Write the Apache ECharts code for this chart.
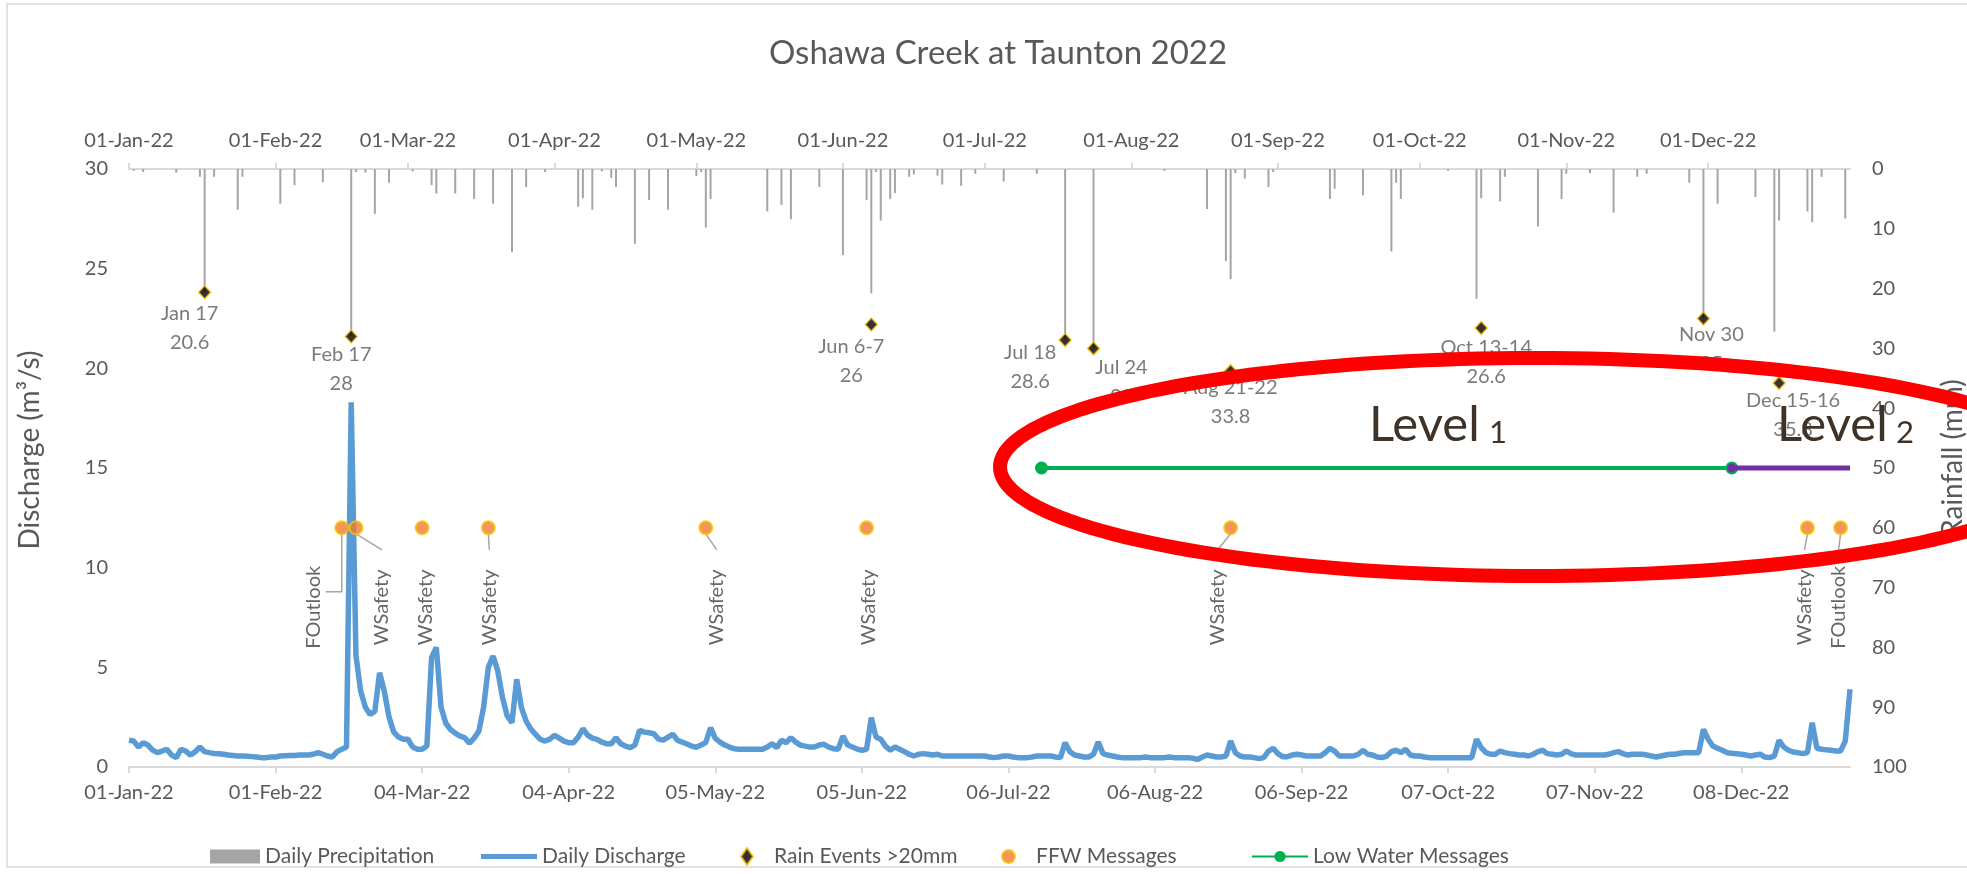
<!DOCTYPE html>
<html>
<head>
<meta charset="utf-8">
<title>Oshawa Creek at Taunton 2022</title>
<script src="https://cdn.jsdelivr.net/npm/echarts@6/dist/echarts.min.js"></script>
<style>
  html, body { margin: 0; padding: 0; background: #fff; }
  #chart { width: 1967px; height: 874px; }
</style>
</head>
<body>
<div id="chart"></div>
<script>
const YEAR = 2022;
const MONTHS = ['Jan', 'Feb', 'Mar', 'Apr', 'May', 'Jun', 'Jul', 'Aug', 'Sep', 'Oct', 'Nov', 'Dec'];

// tick labels (month-day)
const topTicks = ['01-01', '02-01', '03-01', '04-01', '05-01', '06-01', '07-01', '08-01', '09-01', '10-01', '11-01', '12-01'];
const bottomTicks = ['01-01', '02-01', '03-04', '04-04', '05-05', '06-05', '07-06', '08-06', '09-06', '10-07', '11-07', '12-08'];

// daily discharge (m3/s), one line per month, Jan 1 .. Dec 31
const discharge = [
  1.34, 1.3, 1.0, 1.22, 1.1, 0.85, 0.72, 0.8, 0.89, 0.6, 0.47, 0.89, 0.8, 0.6, 0.77, 1.0, 0.77, 0.72, 0.68, 0.66, 0.64, 0.6, 0.58, 0.55, 0.55, 0.54, 0.52, 0.5, 0.47, 0.47, 0.5,
  0.5, 0.55, 0.57, 0.58, 0.58, 0.6, 0.6, 0.6, 0.64, 0.72, 0.64, 0.55, 0.5, 0.77, 0.89, 1.0, 18.3, 5.6, 3.8, 3.0, 2.64, 2.8, 4.73, 3.8, 2.5, 1.75, 1.5, 1.39,
  1.39, 1.0, 0.89, 0.89, 1.05, 5.5, 6.0, 3.0, 2.2, 1.88, 1.7, 1.55, 1.47, 1.2, 1.45, 1.8, 3.0, 5.0, 5.57, 4.82, 3.48, 2.56, 2.22, 4.4, 2.98, 2.3, 1.9, 1.64, 1.39, 1.3, 1.4,
  1.59, 1.45, 1.3, 1.22, 1.22, 1.5, 1.92, 1.6, 1.45, 1.39, 1.25, 1.17, 1.17, 1.47, 1.17, 1.05, 0.97, 1.1, 1.84, 1.75, 1.72, 1.67, 1.4, 1.35, 1.5, 1.64, 1.34, 1.25, 1.15, 1.05,
  0.99, 1.1, 1.24, 1.97, 1.44, 1.25, 1.1, 1.0, 0.92, 0.89, 0.89, 0.89, 0.89, 0.89, 0.89, 1.0, 1.17, 0.97, 1.34, 1.22, 1.47, 1.25, 1.1, 1.05, 1.0, 1.0, 1.1, 1.14, 1.0, 0.92, 0.89,
  1.55, 1.1, 1.0, 0.9, 0.84, 0.89, 2.47, 1.5, 1.39, 1.05, 0.84, 1.0, 0.89, 0.77, 0.64, 0.55, 0.64, 0.67, 0.64, 0.6, 0.64, 0.55, 0.55, 0.55, 0.55, 0.55, 0.55, 0.55, 0.55, 0.55,
  0.55, 0.5, 0.47, 0.5, 0.55, 0.55, 0.5, 0.47, 0.47, 0.47, 0.5, 0.55, 0.55, 0.55, 0.55, 0.5, 0.47, 1.22, 0.77, 0.6, 0.55, 0.5, 0.5, 0.64, 1.25, 0.67, 0.6, 0.55, 0.5, 0.47, 0.47,
  0.47, 0.47, 0.47, 0.5, 0.47, 0.47, 0.47, 0.47, 0.5, 0.47, 0.47, 0.47, 0.47, 0.44, 0.38, 0.5, 0.6, 0.55, 0.5, 0.5, 0.55, 1.3, 0.72, 0.55, 0.5, 0.5, 0.47, 0.42, 0.47, 0.8, 0.94,
  0.67, 0.52, 0.52, 0.6, 0.64, 0.6, 0.55, 0.55, 0.55, 0.55, 0.72, 0.94, 0.8, 0.55, 0.55, 0.55, 0.55, 0.64, 0.84, 0.64, 0.6, 0.5, 0.47, 0.55, 0.77, 0.84, 0.72, 0.89, 0.6, 0.55,
  0.55, 0.5, 0.47, 0.47, 0.47, 0.47, 0.47, 0.47, 0.47, 0.47, 0.47, 0.47, 1.39, 0.97, 0.72, 0.64, 0.64, 0.8, 0.72, 0.67, 0.64, 0.6, 0.6, 0.55, 0.64, 0.77, 0.84, 0.67, 0.64, 0.6, 0.64,
  0.8, 0.67, 0.6, 0.6, 0.6, 0.6, 0.6, 0.6, 0.6, 0.64, 0.72, 0.77, 0.67, 0.6, 0.64, 0.64, 0.64, 0.6, 0.55, 0.5, 0.55, 0.6, 0.64, 0.64, 0.69, 0.72, 0.72, 0.72, 0.72, 1.89,
  1.39, 1.05, 0.94, 0.84, 0.72, 0.69, 0.67, 0.64, 0.6, 0.55, 0.6, 0.64, 0.5, 0.47, 0.55, 1.34, 1.0, 0.84, 0.75, 0.72, 0.67, 0.72, 2.22, 0.94, 0.89, 0.86, 0.84, 0.8, 0.8, 1.3, 3.9
];

// daily precipitation (mm), days with rain only
const precipDates = ['01-02', '01-04', '01-11', '01-16', '01-17', '01-19', '01-24', '01-25', '02-02', '02-05', '02-11', '02-17', '02-18', '02-20', '02-22', '02-25',
  '03-02', '03-06', '03-07', '03-11', '03-15', '03-19', '03-23', '03-26', '03-30', '04-06', '04-07', '04-09', '04-11', '04-13', '04-14', '04-18', '04-21', '04-25',
  '05-01', '05-02', '05-03', '05-04', '05-16', '05-19', '05-21', '05-27', '06-01', '06-06', '06-07', '06-08', '06-09', '06-11', '06-12', '06-15', '06-16', '06-21',
  '06-22', '06-26', '06-29', '07-05', '07-12', '07-18', '07-24', '08-08', '08-17', '08-21', '08-22', '08-23', '08-25', '08-30', '08-31', '09-12', '09-13', '09-19',
  '09-25', '09-26', '09-27', '10-07', '10-13', '10-14', '10-18', '10-19', '10-26', '10-31', '11-01', '11-06', '11-11', '11-16', '11-18', '11-27', '11-30', '12-03',
  '12-11', '12-15', '12-16', '12-22', '12-23', '12-25', '12-30'];
const precipMm = [0.3, 0.5, 0.6, 1.3, 20.6, 1.3, 6.8, 1.3, 5.8, 2.7, 2.2, 28, 0.5, 0.6, 7.5, 2.3,
  0.4, 2.7, 4.1, 4.1, 5.0, 5.8, 13.9, 3.0, 0.5, 6.3, 4.9, 6.8, 0.4, 1.5, 3.0, 12.5, 5.2, 6.8,
  1.2, 0.5, 9.8, 5.0, 7.1, 6.0, 8.4, 3.0, 14.4, 5.2, 20.8, 0.5, 8.6, 5.0, 4.0, 1.3, 0.9, 1.1,
  2.6, 2.8, 0.8, 2.1, 0.8, 28.6, 30, 0.3, 6.7, 15.4, 18.4, 0.7, 1.6, 3.0, 0.5, 5.0, 3.3, 4.4,
  13.8, 2.3, 5.0, 0.3, 21.7, 4.9, 5.4, 1.3, 9.6, 5.0, 0.8, 0.7, 7.3, 1.3, 0.8, 2.3, 25, 5.8,
  4.7, 27.2, 8.6, 7.1, 8.9, 1.3, 8.3];

// rain events > 20 mm
const rainDates = ['01-17', '02-17', '06-07', '07-18', '07-24', '08-22', '10-14', '11-30', '12-16'];
const rainNames = ['Jan 17', 'Feb 17', 'Jun 6-7', 'Jul 18', 'Jul 24', 'Aug 21-22', 'Oct 13-14', 'Nov 30', 'Dec 15-16'];
const rainTotals = [20.6, 28, 26, 28.6, 30, 33.8, 26.6, 25, 35.8];

// flood forecasting & warning messages (drawn at 12 on the discharge axis)
const ffwDates = ['02-15', '02-18', '03-04', '03-18', '05-03', '06-06', '08-22', '12-22', '12-29'];
const ffwTypes = ['FOutlook', 'WSafety', 'WSafety', 'WSafety', 'WSafety', 'WSafety', 'WSafety', 'WSafety', 'FOutlook'];
const ffwLevel = 12;

// low water messages (drawn at 15 on the discharge axis)
const lowWater1 = ['07-13', '12-06'];
const lowWater2 = ['12-06', '12-31'];
const lowWaterLevel = 15;

// label nudges (px) so the labels sit like the original
const rainLabelShift = [[-15, 0], [-10, -4], [-20, 0], [-35, -9], [28, -3], [0, -5], [5, -2], [8, -6], [14, -4]];
const ffwLabelShift = [-28, 26, 3, 1, 11, 2, -13, -3, -2];
const ffwLeader = ['L', 'd', '', 'd', 'd', '', 'd', 'd', 'd'];

function dayOf(md) {
  const [m, d] = md.split('-').map(Number);
  return Math.round((Date.UTC(YEAR, m - 1, d) - Date.UTC(YEAR, 0, 1)) / 864e5);
}
function dateLabel(day) {
  const t = new Date(Date.UTC(YEAR, 0, 1) + Math.round(day) * 864e5);
  return String(t.getUTCDate()).padStart(2, '0') + '-' + MONTHS[t.getUTCMonth()] + '-' + String(YEAR).slice(2);
}

const FONT = 'Lato, "Open Sans", sans-serif';
const GREY = '#595959';
const AXIS_GREY = '#d9d9d9';
const lastDay = discharge.length - 1;

const chart = echarts.init(document.getElementById('chart'));

// red hand-drawn style ellipse round the low water messages
const ell = { cx: 1535, cy: 467, rx: 535, ry: 109 };
const ellPts = [];
for (let i = 0; i <= 180; i++) {
  const a = (i / 180) * Math.PI * 2;
  ellPts.push([ell.cx + ell.rx * Math.cos(a), ell.cy + ell.ry * Math.sin(a)]);
}

const legendText = { color: GREY, fontSize: 21, fontFamily: FONT };
const legendBase = { top: 841, itemHeight: 14, textStyle: legendText, selectedMode: false };

var option = {
  animation: false,
  backgroundColor: '#fff',
  textStyle: { fontFamily: FONT },
  title: {
    text: 'Oshawa Creek at Taunton 2022',
    left: 993,
    textAlign: 'center',
    top: 32,
    textStyle: { color: GREY, fontSize: 33, fontWeight: 'normal', fontFamily: FONT }
  },
  legend: [
    Object.assign({}, legendBase, { left: 205, itemWidth: 50, data: [{ name: 'Daily Precipitation', icon: 'rect' }] }),
    Object.assign({}, legendBase, { left: 476, itemWidth: 56, itemHeight: 5, data: [{ name: 'Daily Discharge', icon: 'rect' }] }),
    Object.assign({}, legendBase, { left: 735, itemWidth: 12, itemHeight: 17, data: ['Rain Events >20mm'],
      textStyle: Object.assign({}, legendText, { padding: [0, 0, 0, 16] }) }),
    Object.assign({}, legendBase, { left: 996, itemWidth: 13, itemHeight: 16, data: ['FFW Messages'],
      textStyle: Object.assign({}, legendText, { padding: [0, 0, 0, 16] }) }),
    Object.assign({}, legendBase, { left: 1246, itemWidth: 56, data: ['Low Water Messages'] })
  ],
  grid: { left: 129, right: 117, top: 169, bottom: 107, containLabel: false, outerBoundsMode: 'none' },
  xAxis: [
    {
      type: 'value',
      position: 'bottom',
      min: 0,
      max: lastDay,
      axisLine: { show: true, lineStyle: { color: AXIS_GREY, width: 2 } },
      axisTick: { show: true, length: 6, lineStyle: { color: AXIS_GREY, width: 2 }, customValues: bottomTicks.map(dayOf) },
      axisLabel: { color: GREY, fontSize: 20, margin: 16, customValues: bottomTicks.map(dayOf), formatter: dateLabel },
      splitLine: { show: false }
    },
    {
      type: 'value',
      position: 'top',
      min: 0,
      max: lastDay,
      axisLine: { show: true, lineStyle: { color: AXIS_GREY, width: 2 } },
      axisTick: { show: true, length: 6, lineStyle: { color: AXIS_GREY, width: 2 }, customValues: topTicks.map(dayOf) },
      axisLabel: { color: GREY, fontSize: 20, margin: 18, customValues: topTicks.map(dayOf), formatter: dateLabel },
      splitLine: { show: false }
    }
  ],
  yAxis: [
    {
      type: 'value',
      min: 0,
      max: 30,
      interval: 5,
      axisLine: { show: false },
      axisTick: { show: false },
      axisLabel: { color: GREY, fontSize: 20, margin: 21 },
      splitLine: { show: false }
    },
    {
      type: 'value',
      position: 'right',
      inverse: true,
      min: 0,
      max: 100,
      interval: 10,
      axisLine: { show: false },
      axisTick: { show: false },
      axisLabel: { color: GREY, fontSize: 20, margin: 22 },
      splitLine: { show: false }
    }
  ],
  series: [
    {
      name: 'Daily Precipitation',
      type: 'bar',
      xAxisIndex: 1,
      yAxisIndex: 1,
      barWidth: 2,
      itemStyle: { color: '#a5a5a5' },
      data: precipDates.map((d, i) => [dayOf(d), precipMm[i]]),
      z: 1
    },
    {
      name: 'Daily Discharge',
      type: 'line',
      xAxisIndex: 0,
      yAxisIndex: 0,
      showSymbol: false,
      symbol: 'none',
      lineStyle: { color: '#5b9bd5', width: 5.5 },
      itemStyle: { color: '#5b9bd5' },
      data: discharge.map((v, i) => [i, v]),
      z: 3
    },
    {
      name: 'Rain Events >20mm',
      type: 'scatter',
      xAxisIndex: 1,
      yAxisIndex: 1,
      symbol: 'diamond',
      symbolSize: [12, 13],
      itemStyle: { color: '#000', borderColor: '#ffc000', borderWidth: 1.5 },
      label: {
        show: true,
        position: 'bottom',
        distance: 0,
        color: GREY,
        fontSize: 20,
        lineHeight: 29,
        fontFamily: FONT,
        formatter: p => rainNames[p.dataIndex] + '\n' + rainTotals[p.dataIndex]
      },
      data: rainDates.map((d, i) => ({
        value: [dayOf(d), rainTotals[i]],
        label: { offset: rainLabelShift[i] }
      })),
      z: 5
    },
    {
      // leader lines from the FFW dots to their labels
      name: 'FFW leaders',
      type: 'custom',
      xAxisIndex: 0,
      yAxisIndex: 0,
      silent: true,
      renderItem: function (params, api) {
        const i = params.dataIndex;
        const kind = ffwLeader[i];
        if (!kind) return null;
        const p = api.coord([api.value(0), api.value(1)]);
        const dx = ffwLabelShift[i];
        const pts = kind === 'L'
          ? [[p[0], p[1] + 6], [p[0], p[1] + 64], [p[0] + dx + 12, p[1] + 64]]
          : [[p[0], p[1] + 6], [p[0] + dx, p[1] + 22]];
        return { type: 'polyline', shape: { points: pts }, style: { stroke: '#a6a6a6', lineWidth: 1.5, fill: 'none' } };
      },
      data: ffwDates.map(d => [dayOf(d), ffwLevel]),
      z: 4
    },
    {
      name: 'FFW Messages',
      type: 'scatter',
      xAxisIndex: 0,
      yAxisIndex: 0,
      symbol: 'circle',
      symbolSize: 13,
      itemStyle: { color: '#ed7d31', borderColor: '#ffc000', borderWidth: 2 },
      label: {
        show: true,
        position: 'bottom',
        distance: 72,
        rotate: 90,
        align: 'center',
        verticalAlign: 'middle',
        color: '#404040',
        fontSize: 20,
        fontFamily: FONT,
        formatter: p => ffwTypes[p.dataIndex]
      },
      // the label is rotated, so its local y offset moves it sideways on screen
      data: ffwDates.map((d, i) => ({
        value: [dayOf(d), ffwLevel],
        label: { offset: [0, ffwLabelShift[i]] }
      })),
      z: 5
    },
    {
      name: 'Low Water Messages',
      type: 'line',
      xAxisIndex: 0,
      yAxisIndex: 0,
      symbol: 'circle',
      symbolSize: 13,
      lineStyle: { color: '#00b050', width: 4 },
      itemStyle: { color: '#00b050' },
      data: lowWater1.map(d => [dayOf(d), lowWaterLevel]),
      z: 4
    },
    {
      name: 'Low Water Level 2',
      type: 'line',
      xAxisIndex: 0,
      yAxisIndex: 0,
      symbol: 'circle',
      symbolSize: 9,
      lineStyle: { color: '#7030a0', width: 5 },
      itemStyle: { color: '#7030a0' },
      data: lowWater2.map((d, i) => ({ value: [dayOf(d), lowWaterLevel], symbol: i === 0 ? 'circle' : 'none' })),
      z: 5
    }
  ],
  graphic: [
    {
      type: 'rect',
      shape: { x: 7, y: 4, width: 2100, height: 863 },
      style: { fill: 'none', stroke: AXIS_GREY, lineWidth: 1.5 },
      silent: true,
      z: 0
    },
    {
      type: 'text',
      x: 30,
      y: 450,
      rotation: Math.PI / 2,
      style: { text: 'Discharge (m³/s)', font: '28px Lato', fill: GREY, align: 'center', verticalAlign: 'middle' },
      z: 2
    },
    {
      type: 'text',
      x: 1953,
      y: 458,
      rotation: Math.PI / 2,
      style: { text: 'Rainfall (mm)', font: '28px Lato', fill: GREY, align: 'center', verticalAlign: 'middle' },
      z: 2
    },
    {
      type: 'text',
      left: 1369,
      top: 401,
      style: { text: 'Level', font: '49px Lato', fill: '#3f3226' },
      z: 20
    },
    {
      type: 'text',
      left: 1489,
      top: 417,
      style: { text: '1', font: '31px Lato', fill: '#3f3226' },
      z: 20
    },
    {
      type: 'text',
      left: 1777,
      top: 401,
      style: { text: 'Level', font: '49px Lato', fill: '#3f3226' },
      z: 20
    },
    {
      type: 'text',
      left: 1896,
      top: 417,
      style: { text: '2', font: '31px Lato', fill: '#3f3226' },
      z: 20
    },
    {
      type: 'polygon',
      shape: { points: ellPts },
      style: { fill: 'none', stroke: '#ff0000', lineWidth: 14 },
      silent: true,
      z: 30
    }
  ]
};

chart.setOption(option);
</script>
</body>
</html>
